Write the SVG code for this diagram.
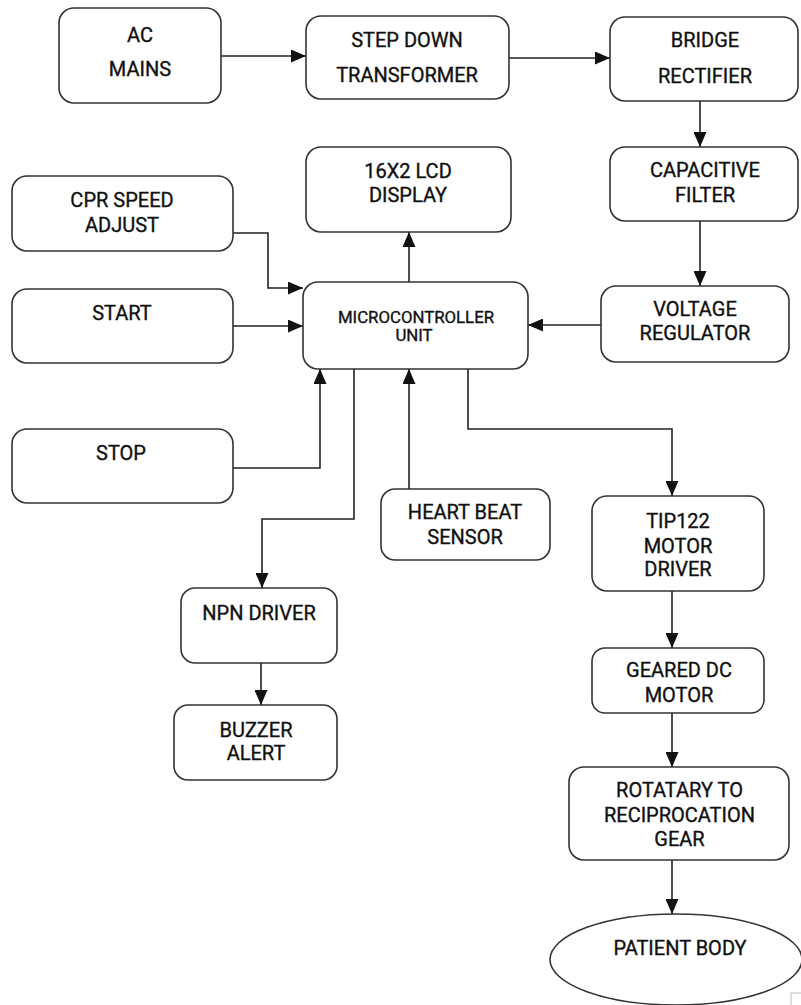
<svg xmlns="http://www.w3.org/2000/svg" width="801" height="1005" viewBox="0 0 801 1005">
<defs>
<marker id="ah" markerWidth="15" markerHeight="13" refX="15" refY="6.5" orient="auto" markerUnits="userSpaceOnUse">
<path d="M0,0 L15,6.5 L0,13 Z" fill="#111"/>
</marker>
<style>
.box{fill:#fff;stroke:#333;stroke-width:1.6}
.t{font-family:Roboto,"Liberation Sans",sans-serif;font-size:20px;fill:#111;stroke:#111;stroke-width:0.35;text-anchor:middle}
.s{font-size:16.8px}
.c{fill:none;stroke:#222;stroke-width:1.6;marker-end:url(#ah)}
</style>
</defs>
<rect width="801" height="1005" fill="#fff"/>
<g id="connectors">
<path class="c" d="M221,56 H306"/>
<path class="c" d="M509,58 H610"/>
<path class="c" d="M700,101 V147"/>
<path class="c" d="M700,221 V286"/>
<path class="c" d="M601,325 H528"/>
<path class="c" d="M409,282 V232"/>
<path class="c" d="M233,233 H268 V288 H303"/>
<path class="c" d="M233,326 H303"/>
<path class="c" d="M233,468 H320 V369"/>
<path class="c" d="M354,369 V519 H262 V588"/>
<path class="c" d="M261,663 V705"/>
<path class="c" d="M409,489 V369"/>
<path class="c" d="M468,369 V429 H672 V496"/>
<path class="c" d="M672,591 V648"/>
<path class="c" d="M672,713 V767"/>
<path class="c" d="M672,860 V914"/>
</g>
<g id="ac-mains"><rect class="box" x="59" y="8" width="162" height="95" rx="15"/><text class="t" x="140" y="42">AC</text><text class="t" x="140" y="76">MAINS</text></g>
<g id="step-down"><rect class="box" x="306" y="16" width="203" height="83" rx="15"/><text class="t" x="407" y="47">STEP DOWN</text><text class="t" x="407" y="82">TRANSFORMER</text></g>
<g id="bridge"><rect class="box" x="610" y="17" width="188" height="84" rx="15"/><text class="t" x="705" y="47">BRIDGE</text><text class="t" x="705" y="83">RECTIFIER</text></g>
<g id="capacitive"><rect class="box" x="610" y="147" width="188" height="74" rx="15"/><text class="t" x="705" y="177">CAPACITIVE</text><text class="t" x="705" y="202">FILTER</text></g>
<g id="voltage"><rect class="box" x="601" y="286" width="188" height="76" rx="15"/><text class="t" x="695" y="316">VOLTAGE</text><text class="t" x="695" y="340">REGULATOR</text></g>
<g id="lcd"><rect class="box" x="306" y="147" width="205" height="85" rx="15"/><text class="t" x="408" y="178">16X2 LCD</text><text class="t" x="408" y="202">DISPLAY</text></g>
<g id="cpr"><rect class="box" x="12" y="176" width="221" height="75" rx="15"/><text class="t" x="122" y="207">CPR SPEED</text><text class="t" x="122" y="232">ADJUST</text></g>
<g id="start"><rect class="box" x="12" y="289" width="221" height="74" rx="15"/><text class="t" x="122" y="320">START</text></g>
<g id="stop"><rect class="box" x="12" y="429" width="221" height="74" rx="15"/><text class="t" x="121" y="460">STOP</text></g>
<g id="mcu"><rect class="box" x="303" y="282" width="225" height="87" rx="15"/><text class="t s" x="416" y="323">MICROCONTROLLER</text><text class="t s" x="414" y="341">UNIT</text></g>
<g id="heart"><rect class="box" x="381" y="489" width="169" height="71" rx="14"/><text class="t" x="465" y="519">HEART BEAT</text><text class="t" x="465" y="544">SENSOR</text></g>
<g id="npn"><rect class="box" x="181" y="588" width="156" height="75" rx="14"/><text class="t" x="259" y="620">NPN DRIVER</text></g>
<g id="buzzer"><rect class="box" x="174" y="705" width="163" height="75" rx="14"/><text class="t" x="256" y="737">BUZZER</text><text class="t" x="256" y="760">ALERT</text></g>
<g id="tip122"><rect class="box" x="592" y="496" width="172" height="95" rx="15"/><text class="t" x="678" y="528">TIP122</text><text class="t" x="678" y="553">MOTOR</text><text class="t" x="678" y="576">DRIVER</text></g>
<g id="geared"><rect class="box" x="592" y="648" width="172" height="65" rx="13"/><text class="t" x="679" y="677">GEARED DC</text><text class="t" x="679" y="702">MOTOR</text></g>
<g id="rotatary"><rect class="box" x="569" y="767" width="220" height="93" rx="15"/><text class="t" x="679.5" y="797">ROTATARY TO</text><text class="t" x="679.5" y="822">RECIPROCATION</text><text class="t" x="679.5" y="846">GEAR</text></g>
<g id="patient"><ellipse class="box" cx="676" cy="959.5" rx="126" ry="45.5"/><text class="t" x="680" y="955">PATIENT BODY</text></g>
<path d="M791,1005 V993 H801" fill="none" stroke="#bbb" stroke-width="1"/>
</svg>
